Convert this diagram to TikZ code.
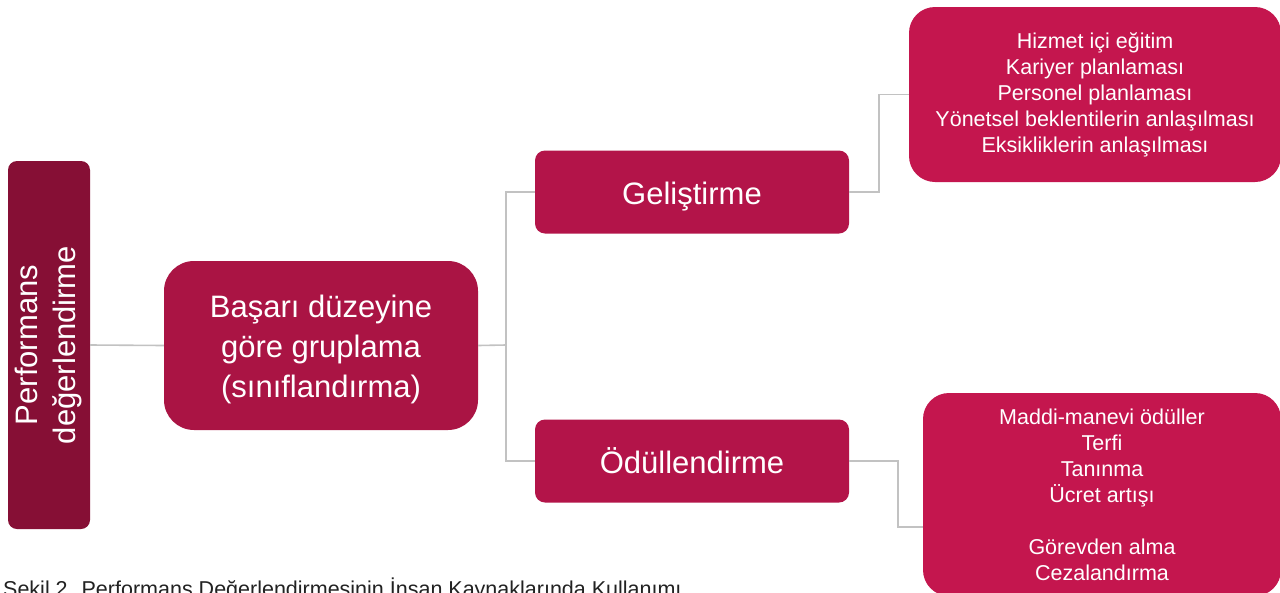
\documentclass[tikz,border=0pt]{standalone}
\usepackage{fontspec}
\setmainfont{Liberation Sans}
\usepackage{graphicx}
\definecolor{cPerf}{HTML}{860F35}
\definecolor{cMid}{HTML}{AA1444}
\definecolor{cSub}{HTML}{B31449}
\definecolor{cLeaf}{HTML}{C4164E}
\definecolor{cLine}{HTML}{C2C2C2}
\definecolor{cCap}{HTML}{222222}
\newcommand{\txtdown}[1]{\raisebox{-4pt}[\height][\depth]{\begin{tabular}{@{}c@{}}#1\end{tabular}}}
\begin{document}
\begin{tikzpicture}[x=1pt,y=-1pt,
  box/.style={rounded corners=#1, inner sep=0pt, text=white, align=center, draw=none},
  bigtext/.style={font=\fontsize{31}{40}\selectfont},
  smalltext/.style={font=\fontsize{21.5}{26}\selectfont},
  conn/.style={draw=cLine, line width=1.6pt}]
\clip (0,0) rectangle (1280,592);
\fill[white] (0,0) rectangle (1280,592);

\node[box=9pt, fill=cPerf, minimum width=82pt, minimum height=368pt,
      font=\fontsize{31}{38}\selectfont] (perf) at (49,345)
  {\rotatebox{90}{\begin{tabular}{@{}c@{}}Performans\\değerlendirme\end{tabular}}};

\node[box=30pt, fill=cMid, minimum width=314pt, minimum height=169pt, bigtext] (mid) at (321,345.5)
  {\txtdown{Başarı düzeyine\\göre gruplama\\(sınıflandırma)}};

\node[box=10pt, fill=cSub, minimum width=314pt, minimum height=83pt, bigtext] (gel) at (692,192) {\txtdown{Geliştirme}};
\node[box=10pt, fill=cSub, minimum width=314pt, minimum height=83pt, bigtext] (odul) at (692,461) {\txtdown{Ödüllendirme}};

\node[box=26pt, fill=cLeaf, minimum width=372pt, minimum height=175pt, smalltext] (tr) at (1095,94.5)
  {Hizmet içi eğitim\\Kariyer planlaması\\Personel planlaması\\Yönetsel beklentilerin anlaşılması\\Eksikliklerin anlaşılması};

\node[box=26pt, fill=cLeaf, minimum width=358pt, minimum height=203pt, smalltext] (br) at (1102,494.5)
  {Maddi-manevi ödüller\\Terfi\\Tanınma\\Ücret artışı\\[26pt]Görevden alma\\Cezalandırma};

\coordinate (j1) at (506,345);
\coordinate (j2) at (879,192);
\coordinate (j3) at (898,461);
\coordinate (j4) at ([yshift=-32.5pt]br.west);

\draw[conn] (perf.east) -- (mid.west);
\draw[conn] (mid.east) -- (j1) |- (gel.west);
\draw[conn] (j1) |- (odul.west);
\draw[conn] (gel.east) -- (j2) |- (tr.west);
\draw[conn] (odul.east) -- (j3) |- (j4);

\node[anchor=base west, inner sep=0pt, text=cCap, font=\fontsize{21.5}{26}\selectfont] (cap) at (3,596)
  {Şekil 2. Performans Değerlendirmesinin İnsan Kaynaklarında Kullanımı};
\end{tikzpicture}
\end{document}
